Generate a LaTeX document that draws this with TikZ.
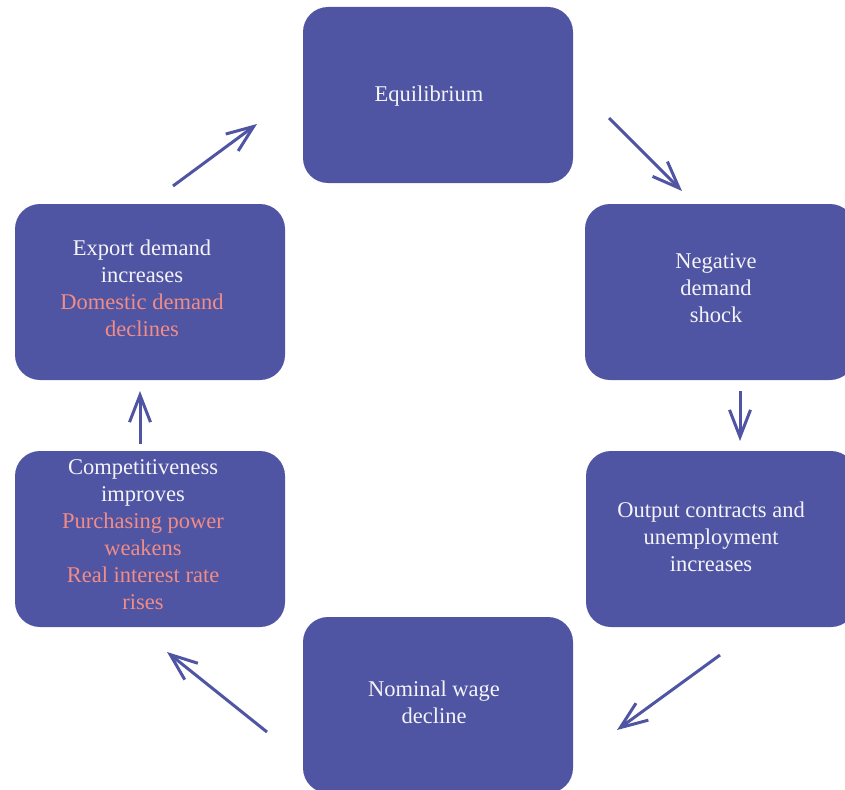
\documentclass[tikz,border=0pt]{standalone}
\usepackage{fontspec}
\setmainfont{Liberation Serif}
\usetikzlibrary{arrows.meta}
\definecolor{boxblue}{HTML}{4F55A3}
\definecolor{pinktxt}{HTML}{F28C86}
\definecolor{lighttxt}{HTML}{F4F4F8}
\tikzset{
  stagebox/.style={draw=none, fill=boxblue, rounded corners=25pt, minimum width=270pt, minimum height=176pt, inner sep=0pt},
  stagetext/.style={inner sep=0pt, text=lighttxt, align=center, font=\fontsize{22.5}{27}\selectfont},
  cyclearrow/.style={draw=boxblue, line width=3pt, -{Straight Barb[length=27pt, width=21pt, line width=3pt]}},
}
\begin{document}
\begin{tikzpicture}[x=1pt, y=-1pt]
\useasboundingbox (0,0) rectangle (845,789);
\node[stagebox] (eq) at (438,95) {};
\node[stagebox] (neg) at (720,292) {};
\node[stagebox] (out) at (721,539) {};
\node[stagebox] (nom) at (438,705) {};
\node[stagebox] (comp) at (150,539) {};
\node[stagebox] (exp) at (150,292) {};
\node[stagetext] (eqt) at (429,96) {Equilibrium};
\node[stagetext] (negt) at (716,288) {Negative\\demand\\shock};
\node[stagetext] (outt) at (711,537) {Output contracts and\\unemployment\\increases};
\node[stagetext] (nomt) at (434,702) {Nominal wage\\decline};
\node[stagetext] (compt) at (143,535) {Competitiveness\\improves\\\textcolor{pinktxt}{Purchasing power}\\\textcolor{pinktxt}{weakens}\\\textcolor{pinktxt}{Real interest rate}\\\textcolor{pinktxt}{rises}};
\node[stagetext] (expt) at (142,288) {Export demand\\increases\\\textcolor{pinktxt}{Domestic demand}\\\textcolor{pinktxt}{declines}};
\coordinate (a1s) at (173,186); \coordinate (a1e) at (257,124);
\coordinate (a2s) at (609,118); \coordinate (a2e) at (682,191);
\coordinate (a3s) at (740,391); \coordinate (a3e) at (740,441);
\coordinate (a4s) at (720,655); \coordinate (a4e) at (617,730);
\coordinate (a5s) at (267,732); \coordinate (a5e) at (167,652);
\coordinate (a6s) at (140,444); \coordinate (a6e) at (140,391);
\draw[cyclearrow] (a1s) -- (a1e);
\draw[cyclearrow] (a2s) -- (a2e);
\draw[cyclearrow] (a3s) -- (a3e);
\draw[cyclearrow] (a4s) -- (a4e);
\draw[cyclearrow] (a5s) -- (a5e);
\draw[cyclearrow] (a6s) -- (a6e);
\end{tikzpicture}
\end{document}
